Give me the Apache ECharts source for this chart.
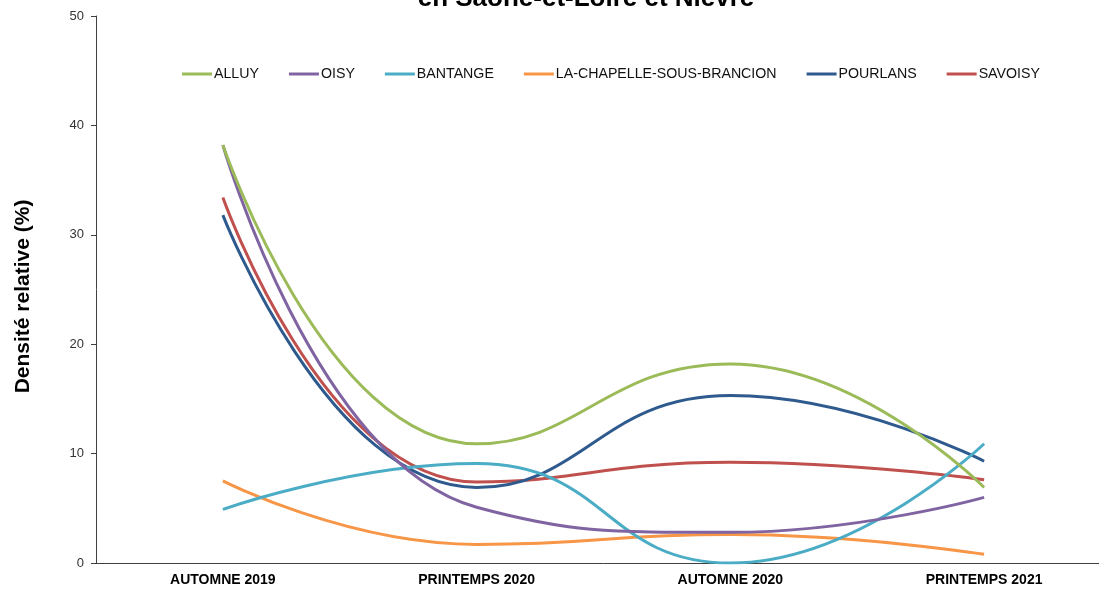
<!DOCTYPE html>
<html><head><meta charset="utf-8">
<script src="https://cdn.jsdelivr.net/npm/echarts@6/dist/echarts.min.js"></script>
<style>html,body{margin:0;padding:0;background:#fff;overflow:hidden;}#c{width:1111px;height:589px;}</style>
</head><body><div id="c"></div>
<script>
const categories = ['AUTOMNE 2019', 'PRINTEMPS 2020', 'AUTOMNE 2020', 'PRINTEMPS 2021'];
const seriesNames = ['ALLUY', 'OISY', 'BANTANGE', 'LA-CHAPELLE-SOUS-BRANCION', 'POURLANS', 'SAVOISY'];
const alluy = [38.2, 10.9, 18.2, 6.9];
const oisy = [38.2, 5.1, 2.8, 6.0];
const bantange = [4.9, 9.1, 0.0, 10.9];
const laChapelle = [7.5, 1.7, 2.6, 0.8];
const pourlans = [31.8, 6.9, 15.3, 9.3];
const savoisy = [33.4, 7.4, 9.2, 7.6];
const yTicks = [0, 10, 20, 30, 40, 50];

const colors = ['#9BBB59', '#8064A2', '#4BACC6', '#F79646', '#2F5A8E', '#C0504D'];
const values = [alluy, oisy, bantange, laChapelle, pourlans, savoisy];
const font = '"Liberation Sans", Arial, sans-serif';

const chart = echarts.init(document.getElementById('c'), null, {renderer: 'canvas'});
chart.setOption({
  animation: false,
  color: colors,
  textStyle: {fontFamily: font},
  title: {
    text: 'en Saône-et-Loire et Nièvre',
    left: 581, top: -19, textAlign: 'center',
    textStyle: {fontFamily: font, fontSize: 26, fontWeight: 'bold', color: '#000'}
  },
  legend: {
    data: seriesNames,
    left: 177, top: 62,
    icon: 'rect', itemWidth: 30, itemHeight: 3, itemGap: 30,
    textStyle: {fontFamily: font, fontSize: 14.2, color: '#111', padding: [0, 0, 0, -3]}
  },
  grid: {left: 96, top: 16, right: 0, bottom: 26, containLabel: false},
  xAxis: {
    type: 'category', data: categories, boundaryGap: true,
    axisLine: {lineStyle: {color: '#404040', width: 1}},
    axisTick: {show: false},
    axisLabel: {fontFamily: font, fontSize: 14, fontWeight: 'bold', color: '#000', margin: 10}
  },
  yAxis: {
    type: 'value', min: yTicks[0], max: yTicks[yTicks.length - 1], interval: 10,
    name: 'Densité relative (%)', nameLocation: 'middle', nameGap: 62, nameRotate: 90,
    nameTextStyle: {fontFamily: font, fontSize: 21, fontWeight: 'bold', color: '#000', padding: [0, 14, 0, 0]},
    axisLine: {show: true, lineStyle: {color: '#404040', width: 1}},
    axisTick: {show: true, length: 5, lineStyle: {color: '#404040'}},
    splitLine: {show: false},
    axisLabel: {fontFamily: font, fontSize: 13, color: '#333', margin: 12}
  },
  series: seriesNames.map((n, i) => ({
    name: n, type: 'line', data: values[i], smooth: 0.5,
    showSymbol: false, symbol: 'none',
    lineStyle: {width: 3, color: colors[i]},
    z: 10 - i
  }))
});
</script></body></html>
